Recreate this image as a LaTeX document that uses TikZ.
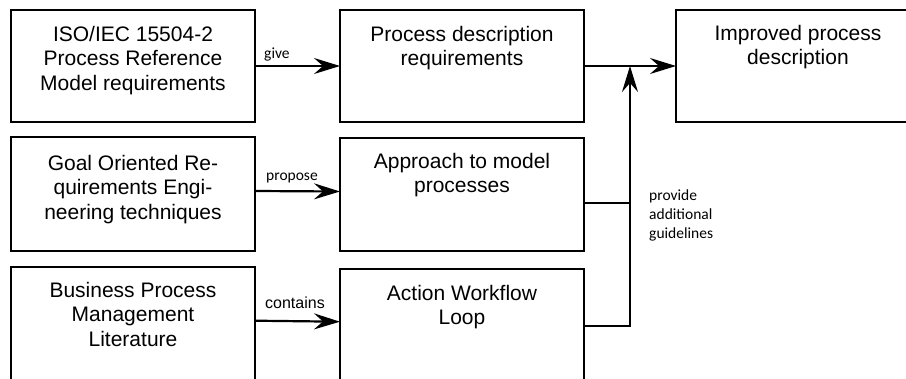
\documentclass[tikz,border=0pt]{standalone}
\usepackage{fontspec}
\setmainfont{Liberation Sans}
\newfontfamily\calib{Carlito}
\usetikzlibrary{arrows.meta,calc}
\begin{document}
\begin{tikzpicture}[x=1pt,y=-1pt,
  box/.style={draw, line width=2.3pt, minimum width=244pt, inner sep=0pt, outer sep=0pt},
  btext/.style={anchor=north, align=center, inner sep=0pt, font=\fontsize{21}{24.5}\selectfont},
  lbl/.style={inner sep=0pt, font=\calib\fontsize{15.5}{19.2}\selectfont},
  ln/.style={line width=2.2pt, line join=miter},
  arr/.style={ln, -{Stealth[length=26pt,width=16pt,inset=9pt]}}]
\path[use as bounding box] (0,0) rectangle (906,378);
\clip (0,0) rectangle (906,378);
% boxes
\node[box, minimum height=112pt] (B1) at (133,66) {};
\node[box, minimum height=112pt] (B2) at (462,66) {};
\node[box, minimum height=112pt] (B3) at (798,66) {};
\node[box, minimum height=114pt] (B4) at (133,194) {};
\node[box, minimum height=113pt] (B5) at (462,194.5) {};
\node[box, minimum height=123pt] (B6) at (133,328.5) {};
\node[box, minimum height=121pt] (B7) at (462,329.5) {};
% texts
\node[btext] (T1) at ([yshift=-16pt]B1.north) {\rule{0pt}{15pt}ISO/IEC 15504-2\\Process Reference\\Model requirements};
\node[btext] (T2) at ([yshift=-16pt]B2.north) {\rule{0pt}{15pt}Process description\\requirements};
\node[btext] (T3) at ([yshift=-15pt]B3.north) {\rule{0pt}{15pt}Improved process\\description};
\node[btext] (T4) at ([yshift=-18pt]B4.north) {\rule{0pt}{15pt}Goal Oriented Re-\\quirements Engi-\\neering techniques};
\node[btext] (T5) at ([yshift=-15pt]B5.north) {\rule{0pt}{15pt}Approach to model\\processes};
\node[btext] (T6) at ([yshift=-15pt]B6.north) {\rule{0pt}{15pt}Business Process\\Management\\Literature};
\node[btext] (T7) at ([yshift=-16pt]B7.north) {\rule{0pt}{15pt}Action Workflow\\Loop};
% connectors
\coordinate (J) at ($(B2.east)!0.5!(B3.west)$);
\draw[arr] (B1.east) -- (B2.west);
\draw[arr] ([yshift=3pt]B4.east) -- ([yshift=3pt]B5.west);
\draw[arr] ([yshift=7.8pt]B6.east) -- ([yshift=7.8pt]B7.west);
\draw[arr] (B2.east) -- (B3.west);
\draw[ln] ([yshift=-8.5pt]B5.east) -- ([yshift=-8.5pt]B5.east -| J);
\draw[arr] ([yshift=3.5pt]B7.east) -| (J);
% labels
\node[lbl, anchor=base west] (Lg) at (264,58) {give};
\node[lbl, anchor=base west] (Lp) at (266,180) {propose};
\node[anchor=base west, inner sep=0pt, font=\fontsize{16}{19}\selectfont] (Lc) at (265,308) {contains};
\node[lbl, anchor=north west, align=left] (La) at (649,189.3) {\rule{0pt}{11pt}provide\\additional\\guidelines};
\end{tikzpicture}
\end{document}
